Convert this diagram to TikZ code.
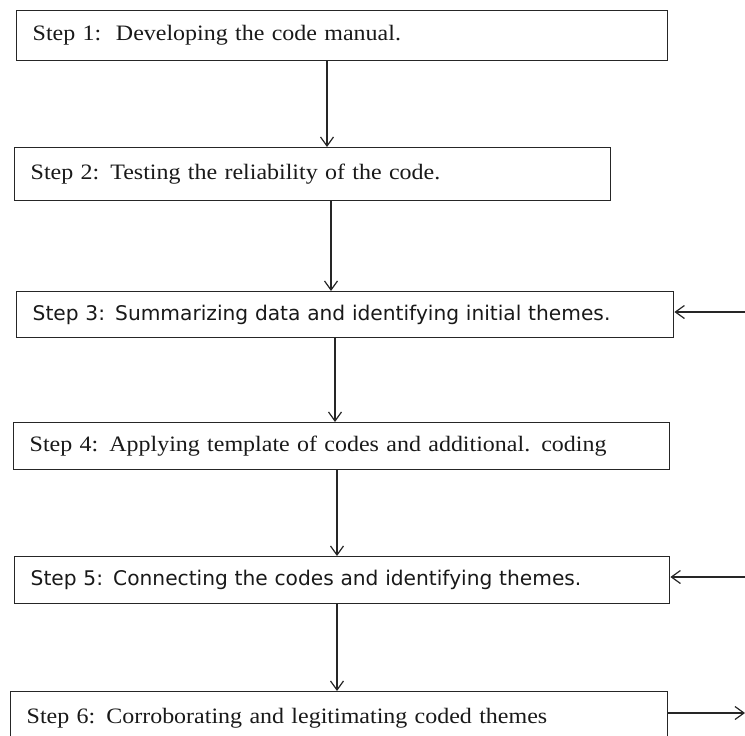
\documentclass[tikz,border=0pt]{standalone}
\usepackage{fontspec}
\usetikzlibrary{arrows.meta}
\setmainfont[FakeStretch=1.09]{Liberation Serif}
\newfontfamily\sansf{DejaVu Sans}
\tikzset{
  stepbox/.style={draw=black!85, line width=1.4pt, rectangle, anchor=north west,
    inner xsep=16pt, inner ysep=0pt, align=left, text=black!90},
  serifstep/.style={font=\rmfamily\fontsize{22}{25}\selectfont},
  sansstep/.style={font=\sansf\fontsize{20.2}{23}\selectfont},
  flow/.style={draw=black!85, line width=1.2pt, -{Straight Barb[length=9pt,width=13pt,line width=1.2pt]}}
}
\begin{document}
\begin{tikzpicture}[x=1pt, y=-1pt]
  \clip (0,0) rectangle (745,736);
  % the six steps
  \node[stepbox, serifstep, minimum width=651pt, minimum height=50pt, text width=619pt] (b1) at (16,10) {Step 1:\ \ Developing the code manual.};
  \node[stepbox, serifstep, minimum width=596pt, minimum height=53pt, text width=564pt] (b2) at (14,147) {Step 2: Testing the reliability of the code.};
  \node[stepbox, sansstep, minimum width=657pt, minimum height=46pt, text width=625pt] (b3) at (16,291) {Step 3: Summarizing data and identifying initial themes.};
  \node[stepbox, serifstep, minimum width=656pt, minimum height=47pt, text width=624pt] (b4) at (13,422) {Step 4: Applying template of codes and additional. coding};
  \node[stepbox, sansstep, minimum width=655pt, minimum height=47pt, text width=623pt] (b5) at (14,556) {Step 5: Connecting the codes and identifying themes.};
  \node[stepbox, serifstep, minimum width=657pt, minimum height=54pt, text width=625pt] (b6) at (10,691) {Step 6: Corroborating and legitimating coded themes};
  % downward flow between steps
  \draw[flow] (b1.south -| 327,0) -- (b2.north -| 327,0);
  \draw[flow] (b2.south -| 331,0) -- (b3.north -| 331,0);
  \draw[flow] (b3.south -| 335,0) -- (b4.north -| 335,0);
  \draw[flow] (b4.south -| 337,0) -- (b5.north -| 337,0);
  \draw[flow] (b5.south -| 337,0) -- (b6.north -| 337,0);
  % feedback and exit arrows on the right
  \coordinate (in3) at (745,312);
  \coordinate (in5) at (745,577);
  \coordinate (out6) at (745,713);
  \draw[flow] (in3) -- (in3 -| b3.east);
  \draw[flow] (in5) -- (in5 -| b5.east);
  \draw[flow] (out6 -| b6.east) -- (out6);
\end{tikzpicture}
\end{document}
